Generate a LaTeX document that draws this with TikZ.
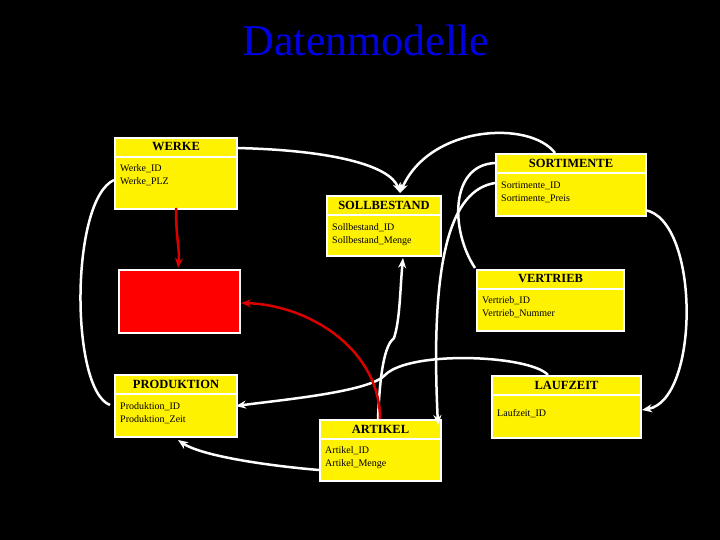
\documentclass[tikz,border=0pt]{standalone}
\usepackage{fontspec}
\setmainfont{Liberation Serif}
\usetikzlibrary{arrows.meta,calc}
\begin{document}
\begin{tikzpicture}[x=1pt,y=-1pt,
  box/.style={draw=white,line width=2pt,fill=yellow,anchor=north west,inner sep=0pt},
  hdr/.style={font=\bfseries\fontsize{12.5}{12.5}\selectfont,anchor=center},
  fld/.style={font=\fontsize{10}{13}\selectfont,anchor=north west,align=left,inner sep=0pt},
  wl/.style={draw=white,line width=2.5pt,-{Stealth[length=10pt,width=8pt]}},
  wn/.style={draw=white,line width=2.5pt},
  rl/.style={draw=red!85!black,line width=2.5pt,-{Stealth[length=10pt,width=8pt]}}]
\fill[black] (0,0) rectangle (720,540);
\useasboundingbox (0,0) rectangle (720,540);
\node[text=blue!90!black,font=\fontsize{44}{44}\selectfont] (title) at (366,40) {Datenmodelle};
\newcommand\ent[8]{%
  \node[box,minimum width=#4pt,minimum height=#5pt] (#1) at (#2,#3) {};
  \draw[white,line width=1.5pt] ($(#1.north west)+(0,20)$) -- ($(#1.north east)+(0,20)$);
  \node[hdr] (#1h) at ($(#1.north)+(0,10)$) {#6};
  \node[fld] (#1f) at ($(#1.north west)+(6,#8)$) {#7};}
\ent{werke}{114}{137}{122}{71}{WERKE}{Werke\_ID\\Werke\_PLZ}{27}
\ent{sort}{495}{153}{150}{62}{SORTIMENTE}{Sortimente\_ID\\Sortimente\_Preis}{29}
\ent{soll}{326}{195}{114}{60}{SOLLBESTAND}{Sollbestand\_ID\\Sollbestand\_Menge}{28}
\ent{vert}{476}{269}{147}{61}{VERTRIEB}{Vertrieb\_ID\\Vertrieb\_Nummer}{27}
\ent{prod}{114}{374}{122}{62}{PRODUKTION}{Produktion\_ID\\Produktion\_Zeit}{28}
\ent{lauf}{491}{375}{149}{62}{LAUFZEIT}{Laufzeit\_ID}{34}
\ent{art}{319}{419}{121}{61}{ARTIKEL}{Artikel\_ID\\Artikel\_Menge}{27}
\node[draw=white,line width=2pt,fill=red,anchor=north west,minimum width=121pt,minimum height=63pt] (redbox) at (118,269) {};
\coordinate (c1) at (400,193);
\draw[wl] (236,148) .. controls (330,150) and (390,165) .. (c1);
\draw[wl] (555,153) .. controls (530,120) and (430,125) .. (c1);
\draw[wn] (495,163) .. controls (450,165) and (450,230) .. (475,268);
\draw[wl] (495,183) .. controls (450,190) and (430,260) .. (438,425);
\draw[wl] (378,419) .. controls (380,370) and (385,345) .. (394,338) .. controls (400,320) and (400,290) .. (403,258);
\draw[wl] (548,375) .. controls (530,355) and (410,350) .. (385,375) .. controls (370,392) and (280,400) .. (236,406);
\draw[wl] (319,470) .. controls (260,465) and (200,455) .. (178,440);
\draw[wn] (114,180) .. controls (70,200) and (70,390) .. (110,405);
\draw[wl] (645,210) .. controls (700,220) and (700,400) .. (642,410);
\draw[rl] (176,208) .. controls (176,240) and (180,250) .. (178,268);
\draw[rl] (380,419) .. controls (380,350) and (310,305) .. (241,303);
\end{tikzpicture}
\end{document}
